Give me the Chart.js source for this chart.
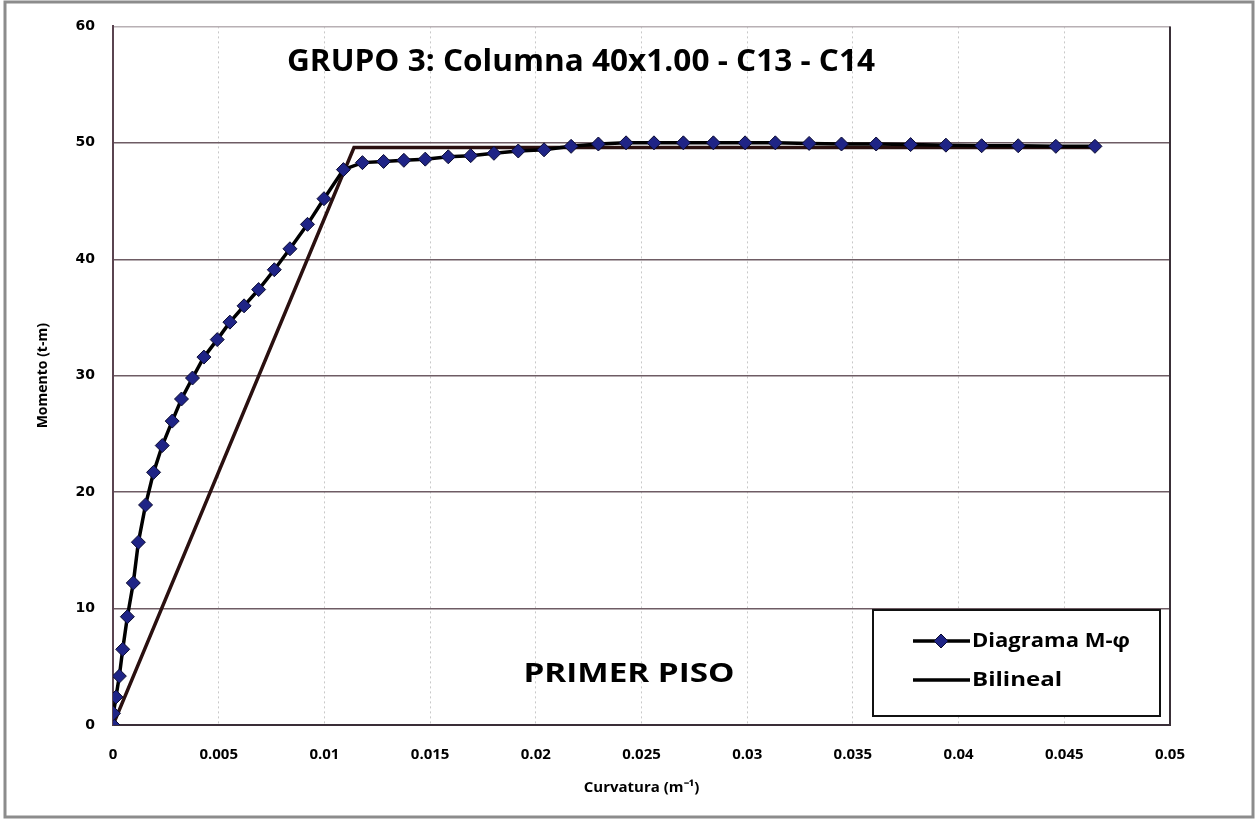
<!DOCTYPE html>
<html lang="es">
<head>
<meta charset="UTF-8">
<title>Diagrama Momento-Curvatura</title>
<script src="https://cdn.jsdelivr.net/npm/chart.js"></script>
<style>
  html, body { margin: 0; padding: 0; background: #fff; }
  #wrap { position: relative; width: 1257px; height: 819px; }
</style>
</head>
<body>
<div id="wrap"><canvas id="mc"></canvas></div>
<script>
// curvatura (1/m) y momento (t-m) del diagrama M-phi
const curvatura = [0, 0.00002, 0.00014, 0.0003, 0.00046, 0.00068, 0.00096,
  0.0012, 0.00154, 0.00192, 0.00233, 0.0028, 0.00324,
  0.00376, 0.0043, 0.00493, 0.00553, 0.0062, 0.00689, 0.00763, 0.00837, 0.0092,
  0.00998, 0.0109, 0.0118, 0.0128, 0.01376, 0.01477, 0.01586, 0.01692, 0.01802, 0.01917, 0.02039,
  0.02167, 0.02296, 0.02427, 0.02559, 0.02698, 0.0284, 0.0299, 0.03133,
  0.03293, 0.03446, 0.0361, 0.03773, 0.0394, 0.04109, 0.04282, 0.0446, 0.04645];
const momento = [0, 1.0, 2.4, 4.2, 6.5, 9.3, 12.2,
  15.7, 18.9, 21.7, 24.0, 26.1, 28.0,
  29.8, 31.6, 33.1, 34.6, 36.0, 37.4, 39.1, 40.9, 43.0,
  45.2, 47.7, 48.3, 48.4, 48.5, 48.6, 48.8, 48.9, 49.1, 49.3, 49.4,
  49.7, 49.9, 50.0, 50.0, 50.0, 50.0, 50.0, 50.0,
  49.95, 49.9, 49.9, 49.85, 49.8, 49.75, 49.75, 49.7, 49.7];

// idealizacion bilineal
const curvBilineal = [0, 0.0114, 0.0465];
const momBilineal = [0, 49.6, 49.6];

const xTicks = [0, 0.005, 0.01, 0.015, 0.02, 0.025, 0.03, 0.035, 0.04, 0.045, 0.05];
const yTicks = [0, 10, 20, 30, 40, 50, 60];

const titulo = 'GRUPO 3: Columna 40x1.00 - C13 - C14';
const subtitulo = 'PRIMER PISO';
const nombres = ['Diagrama M-\u03C6', 'Bilineal'];

const toPts = (xs, ys) => xs.map((x, i) => ({ x: x, y: ys[i] }));

const NAVY = '#1f2486';

// texto ajustado a un ancho dado (centro x, y)
function fitText(ctx, txt, cx, cy, w, font, align) {
  ctx.save();
  ctx.font = font;
  const m = ctx.measureText(txt).width;
  ctx.translate(cx, cy);
  ctx.scale(w / m, 1);
  ctx.textAlign = align || 'center';
  ctx.textBaseline = 'middle';
  ctx.fillText(txt, 0, 0);
  ctx.restore();
}

const extras = {
  id: 'extras',
  afterDraw(chart) {
    const { ctx, chartArea: a } = chart;
    ctx.save();
    // marco exterior
    ctx.strokeStyle = '#8c8c8c';
    ctx.lineWidth = 3;
    ctx.strokeRect(5, 2, 1248, 815);
    // borde derecho del area
    ctx.strokeStyle = '#3a3038';
    ctx.lineWidth = 2;
    ctx.beginPath();
    ctx.moveTo(a.right, a.top);
    ctx.lineTo(a.right, a.bottom);
    ctx.stroke();

    ctx.fillStyle = '#000';
    fitText(ctx, titulo, 581, 62, 588, 'bold 30px "Open Sans"');
    fitText(ctx, subtitulo, 629, 674, 211, 'bold 27px "Open Sans"');

    // leyenda
    ctx.fillStyle = '#fff';
    ctx.fillRect(873, 610, 287, 106);
    ctx.strokeStyle = '#111';
    ctx.lineWidth = 2;
    ctx.strokeRect(873, 610, 287, 106);

    ctx.strokeStyle = '#000';
    ctx.lineWidth = 3.5;
    ctx.beginPath();
    ctx.moveTo(913, 641); ctx.lineTo(970, 641);
    ctx.moveTo(913, 680); ctx.lineTo(970, 680);
    ctx.stroke();
    ctx.fillStyle = NAVY;
    ctx.strokeStyle = '#0a0a30';
    ctx.lineWidth = 1;
    ctx.beginPath();
    ctx.moveTo(941, 634); ctx.lineTo(948, 641); ctx.lineTo(941, 648); ctx.lineTo(934, 641);
    ctx.closePath();
    ctx.fill(); ctx.stroke();

    ctx.fillStyle = '#000';
    fitText(ctx, nombres[0], 972, 641, 158, 'bold 20px "Open Sans"', 'left');
    fitText(ctx, nombres[1], 972, 680, 90, 'bold 20px "Open Sans"', 'left');
    ctx.restore();
  }
};

new Chart(document.getElementById('mc'), {
  type: 'scatter',
  data: {
    datasets: [
      {
        label: nombres[0],
        data: toPts(curvatura, momento),
        showLine: true,
        borderColor: '#000',
        borderWidth: 3.5,
        pointStyle: 'rectRot',
        pointRadius: 7,
        pointBackgroundColor: NAVY,
        pointBorderColor: '#0a0a30',
        pointBorderWidth: 1,
        order: 0
      },
      {
        label: nombres[1],
        data: toPts(curvBilineal, momBilineal),
        showLine: true,
        borderColor: '#2a1010',
        borderWidth: 3.5,
        pointRadius: 0,
        order: 1
      }
    ]
  },
  options: {
    responsive: true,
    maintainAspectRatio: false,
    animation: false,
    layout: { padding: { left: 0, right: 87, top: 26, bottom: 0 } },
    plugins: { legend: { display: false }, tooltip: { enabled: false } },
    scales: {
      x: {
        type: 'linear',
        min: 0, max: 0.05,
        afterFit(s) { s.height = 94; },
        afterBuildTicks(s) { s.ticks = xTicks.map(v => ({ value: v })); },
        grid: { color: '#c8c8c8', lineWidth: 1, drawTicks: false },
        border: { display: true, color: '#3a2e38', width: 2, dash: [2, 3] },
        ticks: {
          padding: 21,
          color: '#000',
          font: { family: 'Open Sans', weight: 'bold', size: 15 },
          callback: v => String(v)
        },
        title: {
          display: true,
          text: 'Curvatura (m\u207B\u00B9)',
          color: '#000',
          font: { family: 'Open Sans', weight: 'bold', size: 15 },
          padding: { bottom: 22 }
        }
      },
      y: {
        type: 'linear',
        min: 0, max: 60,
        afterFit(s) { s.width = 113; },
        afterBuildTicks(s) { s.ticks = yTicks.map(v => ({ value: v })); },
        grid: {
          color: c => c.tick && c.tick.value === 60 ? '#b8b0b4' : '#6e5c64',
          lineWidth: 1.5,
          drawTicks: false
        },
        border: { display: true, color: '#5a4450', width: 2 },
        ticks: {
          padding: 18,
          color: '#000',
          font: { family: 'DejaVu Sans', weight: 'bold', size: 14 }
        },
        title: {
          display: true,
          text: 'Momento (t-m)',
          color: '#000',
          font: { family: 'Open Sans', weight: 'bold', size: 14 },
          padding: { top: 35 }
        }
      }
    }
  },
  plugins: [extras]
});
</script>
</body>
</html>
